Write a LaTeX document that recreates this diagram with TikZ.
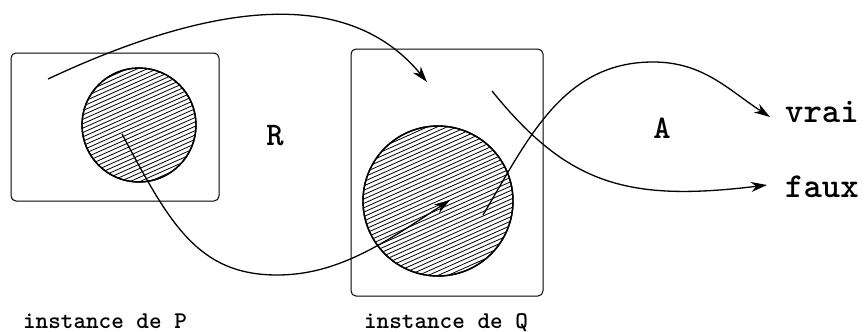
\documentclass[tikz,border=0pt]{standalone}
\usetikzlibrary{arrows.meta,calc}
\tikzset{
  box/.style={draw, line width=1pt, rounded corners=5pt, inner sep=0pt},
  blob/.style={circle, draw, line width=1.4pt, inner sep=0pt},
  hatch/.style={line width=0.8pt},
  flow/.style={line width=1.3pt, -{Stealth[length=16pt,width=10pt,inset=5pt]}},
  lab/.style={font=\ttfamily\bfseries, inner sep=0pt},
}
\begin{document}
\begin{tikzpicture}[x=1pt,y=-1pt]
\useasboundingbox (0,0) rectangle (865,332);
% boxes
\node[box, minimum width=208pt, minimum height=148pt] (boxP) at (115,127) {};
\node[box, minimum width=192pt, minimum height=247pt] (boxQ) at (447,172.5) {};
% circles with hatching
\node[blob, minimum size=114pt] (cP) at (139,125) {};
\node[blob, minimum size=150pt] (cQ) at (438,201) {};
\begin{scope}
  \clip (cP.center) circle (57pt);
  \foreach \o in {-64,-60,...,64}
    \draw[hatch] ($(cP.center)+(114:\o pt)+(204:90pt)$) -- ++(24:180pt);
\end{scope}
\begin{scope}
  \clip (cQ.center) circle (75pt);
  \foreach \o in {-84,-80,...,84}
    \draw[hatch] ($(cQ.center)+(114:\o pt)+(204:100pt)$) -- ++(24:200pt);
\end{scope}
\node[blob, minimum size=114pt] at (cP.center) {};
\node[blob, minimum size=150pt] at (cQ.center) {};
% free ends
\coordinate (s1) at (48,79);
\coordinate (e1) at (427,82);
\coordinate (s2) at (122,134);
\coordinate (b2) at (277,275);
\coordinate (e2) at (450,200);
\coordinate (s3) at (483,215);
\coordinate (p3) at (653,62);
\coordinate (e3) at (770,117);
\coordinate (s4) at (492,91);
\coordinate (e4) at (767,185);
% labels
\node[lab, font=\ttfamily\bfseries\fontsize{33}{33}\selectfont, anchor=base] (R) at (275,145) {R};
\node[lab, font=\ttfamily\bfseries\fontsize{33}{33}\selectfont, anchor=base] (A) at (662,138) {A};
\node[lab, font=\ttfamily\bfseries\fontsize{35}{35}\selectfont, anchor=base west] (vrai) at (785,122) {vrai};
\node[lab, font=\ttfamily\bfseries\fontsize{35}{35}\selectfont, anchor=base west] (faux) at (785,197) {faux};
\node[lab, font=\ttfamily\bfseries\fontsize{24}{24}\selectfont, anchor=base] (iP) at (105,328) {instance de P};
\node[lab, font=\ttfamily\bfseries\fontsize{24}{24}\selectfont, anchor=base] (iQ) at (446,328) {instance de Q};
% connectors
\draw[flow] (s1) .. controls (238,-10) and (357,-3) .. (e1);
\draw[line width=1.3pt] (s2) .. controls (169,222) and (197,275) .. (b2);
\draw[flow] (b2) .. controls (337,275) and (383,244) .. (e2);
\draw[line width=1.3pt] (s3) .. controls (528,139) and (563,62) .. (p3);
\draw[flow] (p3) .. controls (703,62) and (728,89.5) .. (e3);
\draw[flow] (s4) .. controls (568,185) and (628,202) .. (e4);
\end{tikzpicture}
\end{document}
